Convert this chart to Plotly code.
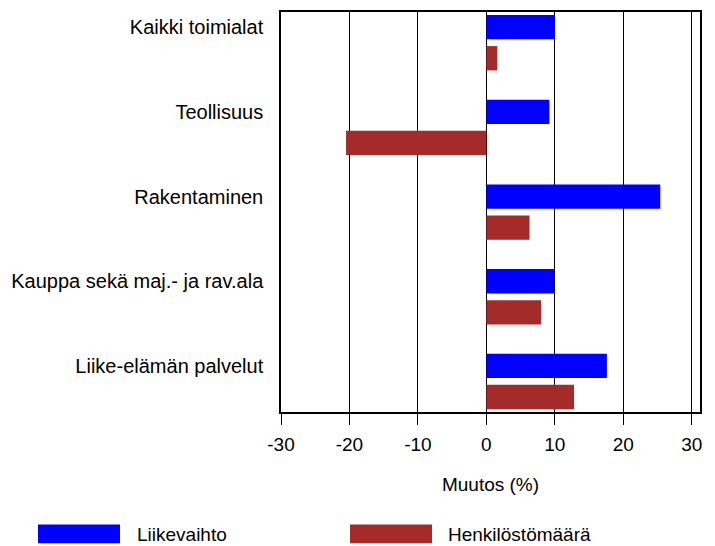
import plotly.graph_objects as go

categories = ["Kaikki toimialat", "Teollisuus", "Rakentaminen",
              "Kauppa sekä maj.- ja rav.ala", "Liike-elämän palvelut"]
liikevaihto = [10.0, 9.2, 25.4, 9.9, 17.6]
henkilosto = [1.6, -20.5, 6.3, 8.0, 12.8]
series_names = ["Liikevaihto", "Henkilöstömäärä"]
x_ticks = [-30, -20, -10, 0, 10, 20, 30]

BLUE = "#0000FF"
RED = "#A52A2A"
FONT = "Liberation Sans, Arial, sans-serif"

W, H = 715, 546
L, R, T, B = 281, 15, 10, 134
PW, PH = W - L - R, H - T - B


def px(x):
    return (x - L) / PW


def py(y):
    return (H - B - y) / PH


bw = 0.287
fig = go.Figure()
fig.add_trace(go.Bar(
    y=categories, x=liikevaihto, orientation="h", name=series_names[0],
    marker=dict(color=BLUE, line=dict(width=0)),
    width=bw, offset=-bw / 2, showlegend=False,
))
fig.add_trace(go.Bar(
    y=categories, x=henkilosto, orientation="h", name=series_names[1],
    marker=dict(color=RED, line=dict(width=0)),
    width=bw, offset=0.367 - bw / 2, showlegend=False,
))

fig.update_layout(
    width=W, height=H,
    margin=dict(l=L, r=R, t=T, b=B, pad=0),
    paper_bgcolor="white", plot_bgcolor="white",
    barmode="overlay",
    font=dict(family=FONT, size=19, color="black"),
    xaxis=dict(
        range=[-30, 31.2], tickvals=x_ticks, ticktext=[str(v) for v in x_ticks],
        showgrid=True, gridcolor="black", gridwidth=1,
        zeroline=False, showline=True, linecolor="black", linewidth=1.5,
        mirror=True, ticks="outside", ticklen=11, tickcolor="black",
        tickwidth=1, ticklabelstandoff=3,
        title=dict(text="Muutos (%)", standoff=24, font=dict(size=19)),
        tickfont=dict(size=19),
    ),
    yaxis=dict(
        type="category", categoryorder="array", categoryarray=categories,
        range=[4.544, -0.179], showgrid=False, zeroline=False,
        showline=True, linecolor="black", linewidth=1.5, mirror=True,
        ticks="", ticklabelstandoff=12, tickfont=dict(size=20),
    ),
)

# legend drawn as large swatches like the reference
legend_items = [(series_names[0], BLUE, 38, 120, 135),
                (series_names[1], RED, 350, 432, 446)]
for name, col, x0, x1, tx in legend_items:
    fig.add_shape(type="rect", xref="paper", yref="paper",
                  x0=px(x0), x1=px(x1), y0=py(544), y1=py(525),
                  fillcolor=col, line=dict(width=0))
    fig.add_annotation(xref="paper", yref="paper", x=px(tx), y=py(535),
                       text=name, showarrow=False, xanchor="left",
                       yanchor="middle", font=dict(size=19))

fig.write_html("out.html", config={"displayModeBar": False},
               post_script="document.body.style.margin='0';"
                           "document.body.style.overflow='hidden';")
